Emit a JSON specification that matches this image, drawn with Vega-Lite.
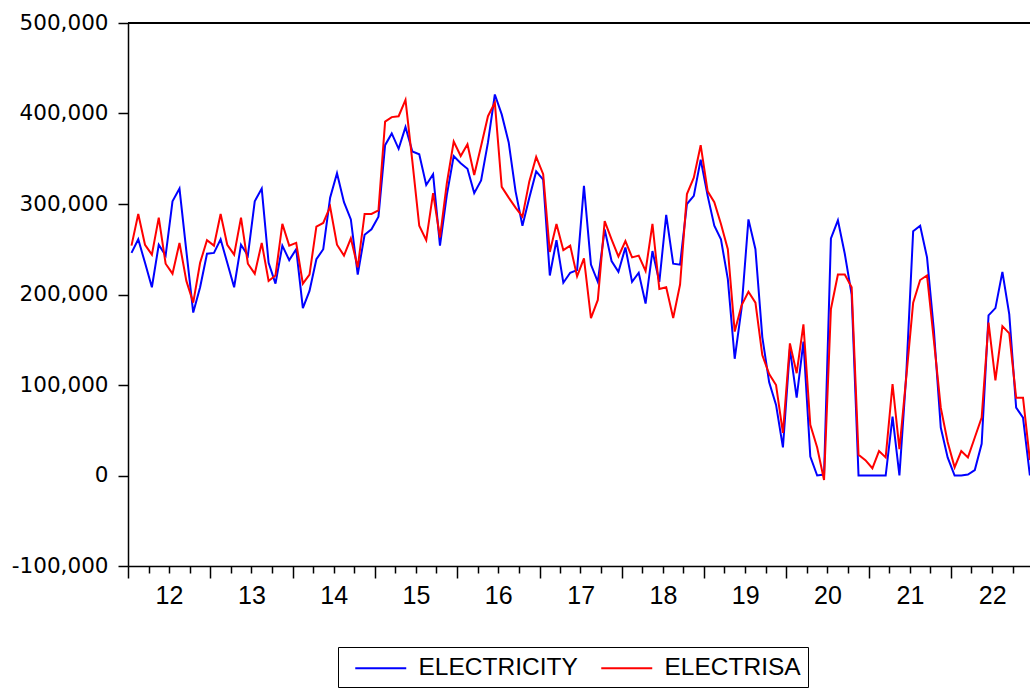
{
  "$schema": "https://vega.github.io/schema/vega-lite/v6.json",
  "autosize": {"type": "none"},
  "width": 902,
  "height": 543,
  "padding": {"left": 128, "top": 23, "right": 0, "bottom": 125},
  "background": "white",
  "config": {"view": {"stroke": null}},
  "data": {"values": [
    {"m":"2012-01","ELECTRICITY":246000,"ELECTRISA":254000},
    {"m":"2012-02","ELECTRICITY":261000,"ELECTRISA":289000},
    {"m":"2012-03","ELECTRICITY":235000,"ELECTRISA":255000},
    {"m":"2012-04","ELECTRICITY":208000,"ELECTRISA":244000},
    {"m":"2012-05","ELECTRICITY":255000,"ELECTRISA":285000},
    {"m":"2012-06","ELECTRICITY":243000,"ELECTRISA":234000},
    {"m":"2012-07","ELECTRICITY":303000,"ELECTRISA":223000},
    {"m":"2012-08","ELECTRICITY":317000,"ELECTRISA":257000},
    {"m":"2012-09","ELECTRICITY":248000,"ELECTRISA":215000},
    {"m":"2012-10","ELECTRICITY":180000,"ELECTRISA":191000},
    {"m":"2012-11","ELECTRICITY":208000,"ELECTRISA":235000},
    {"m":"2012-12","ELECTRICITY":245000,"ELECTRISA":260000},
    {"m":"2013-01","ELECTRICITY":246000,"ELECTRISA":254000},
    {"m":"2013-02","ELECTRICITY":261000,"ELECTRISA":289000},
    {"m":"2013-03","ELECTRICITY":235000,"ELECTRISA":255000},
    {"m":"2013-04","ELECTRICITY":208000,"ELECTRISA":244000},
    {"m":"2013-05","ELECTRICITY":255000,"ELECTRISA":285000},
    {"m":"2013-06","ELECTRICITY":243000,"ELECTRISA":234000},
    {"m":"2013-07","ELECTRICITY":303000,"ELECTRISA":223000},
    {"m":"2013-08","ELECTRICITY":317000,"ELECTRISA":257000},
    {"m":"2013-09","ELECTRICITY":235000,"ELECTRISA":215000},
    {"m":"2013-10","ELECTRICITY":212000,"ELECTRISA":221000},
    {"m":"2013-11","ELECTRICITY":254000,"ELECTRISA":278000},
    {"m":"2013-12","ELECTRICITY":238000,"ELECTRISA":254000},
    {"m":"2014-01","ELECTRICITY":250000,"ELECTRISA":257000},
    {"m":"2014-02","ELECTRICITY":185000,"ELECTRISA":212000},
    {"m":"2014-03","ELECTRICITY":204000,"ELECTRISA":222000},
    {"m":"2014-04","ELECTRICITY":239000,"ELECTRISA":275000},
    {"m":"2014-05","ELECTRICITY":250000,"ELECTRISA":279000},
    {"m":"2014-06","ELECTRICITY":307000,"ELECTRISA":297000},
    {"m":"2014-07","ELECTRICITY":334000,"ELECTRISA":255000},
    {"m":"2014-08","ELECTRICITY":302000,"ELECTRISA":243000},
    {"m":"2014-09","ELECTRICITY":283000,"ELECTRISA":262000},
    {"m":"2014-10","ELECTRICITY":222000,"ELECTRISA":230000},
    {"m":"2014-11","ELECTRICITY":266000,"ELECTRISA":289000},
    {"m":"2014-12","ELECTRICITY":272000,"ELECTRISA":289000},
    {"m":"2015-01","ELECTRICITY":286000,"ELECTRISA":293000},
    {"m":"2015-02","ELECTRICITY":365000,"ELECTRISA":391000},
    {"m":"2015-03","ELECTRICITY":378000,"ELECTRISA":396000},
    {"m":"2015-04","ELECTRICITY":361000,"ELECTRISA":397000},
    {"m":"2015-05","ELECTRICITY":385000,"ELECTRISA":415000},
    {"m":"2015-06","ELECTRICITY":358000,"ELECTRISA":347000},
    {"m":"2015-07","ELECTRICITY":355000,"ELECTRISA":276000},
    {"m":"2015-08","ELECTRICITY":321000,"ELECTRISA":260000},
    {"m":"2015-09","ELECTRICITY":333000,"ELECTRISA":312000},
    {"m":"2015-10","ELECTRICITY":254000,"ELECTRISA":263000},
    {"m":"2015-11","ELECTRICITY":310000,"ELECTRISA":323000},
    {"m":"2015-12","ELECTRICITY":353000,"ELECTRISA":369000},
    {"m":"2016-01","ELECTRICITY":345000,"ELECTRISA":353000},
    {"m":"2016-02","ELECTRICITY":339000,"ELECTRISA":366000},
    {"m":"2016-03","ELECTRICITY":312000,"ELECTRISA":332000},
    {"m":"2016-04","ELECTRICITY":326000,"ELECTRISA":364000},
    {"m":"2016-05","ELECTRICITY":368000,"ELECTRISA":397000},
    {"m":"2016-06","ELECTRICITY":421000,"ELECTRISA":412000},
    {"m":"2016-07","ELECTRICITY":399000,"ELECTRISA":319000},
    {"m":"2016-08","ELECTRICITY":368000,"ELECTRISA":307000},
    {"m":"2016-09","ELECTRICITY":314000,"ELECTRISA":296000},
    {"m":"2016-10","ELECTRICITY":276000,"ELECTRISA":286000},
    {"m":"2016-11","ELECTRICITY":307000,"ELECTRISA":325000},
    {"m":"2016-12","ELECTRICITY":336000,"ELECTRISA":352000},
    {"m":"2017-01","ELECTRICITY":327000,"ELECTRISA":333000},
    {"m":"2017-02","ELECTRICITY":221000,"ELECTRISA":247000},
    {"m":"2017-03","ELECTRICITY":260000,"ELECTRISA":278000},
    {"m":"2017-04","ELECTRICITY":213000,"ELECTRISA":249000},
    {"m":"2017-05","ELECTRICITY":224000,"ELECTRISA":254000},
    {"m":"2017-06","ELECTRICITY":227000,"ELECTRISA":220000},
    {"m":"2017-07","ELECTRICITY":320000,"ELECTRISA":240000},
    {"m":"2017-08","ELECTRICITY":233000,"ELECTRISA":174000},
    {"m":"2017-09","ELECTRICITY":214000,"ELECTRISA":194000},
    {"m":"2017-10","ELECTRICITY":272000,"ELECTRISA":281000},
    {"m":"2017-11","ELECTRICITY":237000,"ELECTRISA":261000},
    {"m":"2017-12","ELECTRICITY":225000,"ELECTRISA":242000},
    {"m":"2018-01","ELECTRICITY":252000,"ELECTRISA":259000},
    {"m":"2018-02","ELECTRICITY":214000,"ELECTRISA":241000},
    {"m":"2018-03","ELECTRICITY":224000,"ELECTRISA":243000},
    {"m":"2018-04","ELECTRICITY":190000,"ELECTRISA":226000},
    {"m":"2018-05","ELECTRICITY":248000,"ELECTRISA":278000},
    {"m":"2018-06","ELECTRICITY":214000,"ELECTRISA":206000},
    {"m":"2018-07","ELECTRICITY":288000,"ELECTRISA":208000},
    {"m":"2018-08","ELECTRICITY":234000,"ELECTRISA":174000},
    {"m":"2018-09","ELECTRICITY":233000,"ELECTRISA":211000},
    {"m":"2018-10","ELECTRICITY":300000,"ELECTRISA":311000},
    {"m":"2018-11","ELECTRICITY":309000,"ELECTRISA":329000},
    {"m":"2018-12","ELECTRICITY":349000,"ELECTRISA":365000},
    {"m":"2019-01","ELECTRICITY":309000,"ELECTRISA":314000},
    {"m":"2019-02","ELECTRICITY":276000,"ELECTRISA":302000},
    {"m":"2019-03","ELECTRICITY":261000,"ELECTRISA":278000},
    {"m":"2019-04","ELECTRICITY":217000,"ELECTRISA":250000},
    {"m":"2019-05","ELECTRICITY":129000,"ELECTRISA":159000},
    {"m":"2019-06","ELECTRICITY":185000,"ELECTRISA":188000},
    {"m":"2019-07","ELECTRICITY":283000,"ELECTRISA":203000},
    {"m":"2019-08","ELECTRICITY":250000,"ELECTRISA":191000},
    {"m":"2019-09","ELECTRICITY":153000,"ELECTRISA":133000},
    {"m":"2019-10","ELECTRICITY":103000,"ELECTRISA":112000},
    {"m":"2019-11","ELECTRICITY":78000,"ELECTRISA":100000},
    {"m":"2019-12","ELECTRICITY":31000,"ELECTRISA":47000},
    {"m":"2020-01","ELECTRICITY":140000,"ELECTRISA":146000},
    {"m":"2020-02","ELECTRICITY":86000,"ELECTRISA":113000},
    {"m":"2020-03","ELECTRICITY":148000,"ELECTRISA":167000},
    {"m":"2020-04","ELECTRICITY":21000,"ELECTRISA":56000},
    {"m":"2020-05","ELECTRICITY":0,"ELECTRISA":31000},
    {"m":"2020-06","ELECTRICITY":1000,"ELECTRISA":-5000},
    {"m":"2020-07","ELECTRICITY":262000,"ELECTRISA":184000},
    {"m":"2020-08","ELECTRICITY":282000,"ELECTRISA":222000},
    {"m":"2020-09","ELECTRICITY":245000,"ELECTRISA":222000},
    {"m":"2020-10","ELECTRICITY":200000,"ELECTRISA":208000},
    {"m":"2020-11","ELECTRICITY":0,"ELECTRISA":23000},
    {"m":"2020-12","ELECTRICITY":0,"ELECTRISA":17000},
    {"m":"2021-01","ELECTRICITY":0,"ELECTRISA":8000},
    {"m":"2021-02","ELECTRICITY":0,"ELECTRISA":27000},
    {"m":"2021-03","ELECTRICITY":0,"ELECTRISA":20000},
    {"m":"2021-04","ELECTRICITY":65000,"ELECTRISA":101000},
    {"m":"2021-05","ELECTRICITY":0,"ELECTRISA":29000},
    {"m":"2021-06","ELECTRICITY":112000,"ELECTRISA":109000},
    {"m":"2021-07","ELECTRICITY":270000,"ELECTRISA":191000},
    {"m":"2021-08","ELECTRICITY":276000,"ELECTRISA":216000},
    {"m":"2021-09","ELECTRICITY":241000,"ELECTRISA":221000},
    {"m":"2021-10","ELECTRICITY":160000,"ELECTRISA":149000},
    {"m":"2021-11","ELECTRICITY":53000,"ELECTRISA":75000},
    {"m":"2021-12","ELECTRICITY":20000,"ELECTRISA":37000},
    {"m":"2022-01","ELECTRICITY":0,"ELECTRISA":9000},
    {"m":"2022-02","ELECTRICITY":0,"ELECTRISA":27000},
    {"m":"2022-03","ELECTRICITY":1000,"ELECTRISA":20000},
    {"m":"2022-04","ELECTRICITY":6000,"ELECTRISA":42000},
    {"m":"2022-05","ELECTRICITY":35000,"ELECTRISA":64000},
    {"m":"2022-06","ELECTRICITY":177000,"ELECTRISA":169000},
    {"m":"2022-07","ELECTRICITY":185000,"ELECTRISA":105000},
    {"m":"2022-08","ELECTRICITY":225000,"ELECTRISA":165000},
    {"m":"2022-09","ELECTRICITY":178000,"ELECTRISA":157000},
    {"m":"2022-10","ELECTRICITY":75000,"ELECTRISA":86000},
    {"m":"2022-11","ELECTRICITY":64000,"ELECTRISA":86000},
    {"m":"2022-12","ELECTRICITY":0,"ELECTRISA":17000}
  ]},
  "layer": [
    {
      "transform": [{"fold": ["ELECTRICITY", "ELECTRISA"], "as": ["series", "value"]}],
      "mark": {"type": "line", "strokeWidth": 2, "strokeJoin": "miter", "clip": false},
      "encoding": {
        "x": {
          "field": "m", "timeUnit": "utcyearmonth", "type": "temporal", "bandPosition": 0.5,
          "scale": {"type": "utc", "domain": [1325376000000, 1671235200000]},
          "axis": {
            "title": null,
            "grid": false,
            "tickCount": {"interval": "month", "step": 3},
            "tickSize": {"condition": {"test": "utcmonth(datum.value) == 0", "value": 12}, "value": 7},
            "labelExpr": "utcmonth(datum.value) == 0 ? utcFormat(datum.value, '%y') : ''",
            "labelOffset": 41,
            "labelFont": "Liberation Sans",
            "labelFontSize": 25,
            "labelColor": "black",
            "labelPadding": 5,
            "labelOverlap": false,
            "labelBound": false,
            "labelFlush": false,
            "domainColor": "black",
            "domainWidth": 1.5,
            "tickColor": "black",
            "tickWidth": 1.5
          }
        },
        "y": {
          "field": "value", "type": "quantitative",
          "scale": {"domain": [-100000, 500000], "nice": false, "zero": false},
          "axis": {
            "title": null,
            "grid": false,
            "values": [-100000, 0, 100000, 200000, 300000, 400000, 500000],
            "labelExpr": "replace(format(datum.value, ','), '\u2212', '-')",
            "labelFont": "DejaVu Sans",
            "labelFontSize": 21.5,
            "labelColor": "black",
            "labelPadding": 10,
            "tickSize": 10,
            "tickColor": "black",
            "tickWidth": 1.5,
            "domainColor": "black",
            "domainWidth": 1.5
          }
        },
        "color": {
          "field": "series", "type": "nominal",
          "scale": {"domain": ["ELECTRICITY", "ELECTRISA"], "range": ["#0000ff", "#ff0000"]},
          "legend": {
            "title": null,
            "orient": "none",
            "legendX": 210,
            "legendY": 624,
            "direction": "horizontal",
            "symbolType": "M-2,0H2",
            "symbolSize": 650,
            "symbolStrokeWidth": 2,
            "symbolFillColor": "transparent",
            "symbolOffset": 21.75,
            "labelFont": "Liberation Sans",
            "labelFontSize": 24.5,
            "labelColor": "black",
            "labelOffset": 23.75,
            "columnPadding": 13,
            "padding": 7,
            "strokeColor": "black",
            "fillColor": "white"
          }
        }
      }
    },
    {
      "mark": {"type": "rule", "color": "black", "strokeWidth": 1.5},
      "encoding": {"y": {"datum": 500000, "type": "quantitative"}}
    }
  ]
}
